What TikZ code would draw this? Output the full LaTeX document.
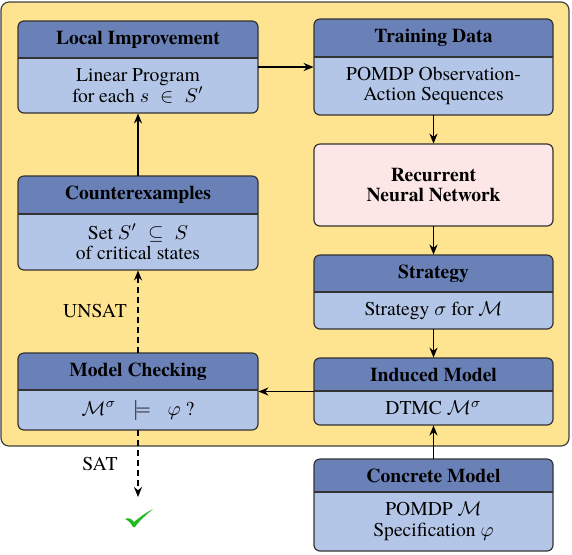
\documentclass[tikz,border=0pt]{standalone}
\usepackage{fontspec}
\setmainfont{TeX Gyre Termes}
\usepackage{amssymb}
\usetikzlibrary{arrows.meta,fit}
\definecolor{bgyellow}{HTML}{FEE390}
\definecolor{hdblue}{HTML}{6A81B8}
\definecolor{bdblue}{HTML}{B4C6E7}
\definecolor{rnnpink}{HTML}{FDE6E6}
\definecolor{chkgreen}{HTML}{22B822}
\tikzset{
  boxline/.style={draw=black!80, line width=0.6pt, rounded corners=3pt},
  flow/.style={-{Stealth[length=5pt,width=4pt]}, line width=0.9pt},
  dflow/.style={flow, dashed, dash pattern=on 3pt off 2pt},
  lbl/.style={font=\fontsize{9.8}{10.4}\selectfont, inner sep=0pt},
  ttl/.style={font=\fontsize{9.8}{10.4}\selectfont\bfseries, inner sep=0pt, align=center},
  bdy/.style={font=\fontsize{9.8}{10.4}\selectfont, inner sep=0pt, align=center},
}
% name, x1, y1, x2, y2, ysplit, title, body
\newcommand{\mybox}[8]{%
  \fill[bdblue, rounded corners=3pt] (#2,#3) rectangle (#4,#5);
  \fill[hdblue] (#2,#6) {[rounded corners=3pt] -- (#2,#3) -- (#4,#3)} -- (#4,#6) -- cycle;
  \draw[black!80, line width=0.6pt] (#2,#6) -- (#4,#6);
  \draw[boxline] (#2,#3) rectangle (#4,#5);
  \node[fit={(#2,#3) (#4,#5)}, inner sep=0pt] (#1) {};
  \node[ttl] (#1-t) at ({(#2+#4)/2},{(#3+#6)/2}) {#7};
  \node[bdy] (#1-b) at ({(#2+#4)/2},{(#6+#5)/2}) {#8};
}
\begin{document}
\begin{tikzpicture}[x=0.5pt,y=-0.5pt]
\useasboundingbox (0,0) rectangle (572,554);
\draw[fill=bgyellow, draw=black!75, line width=0.6pt, rounded corners=4pt] (1,2) rectangle (569,446);

\mybox{li}{18}{21}{258}{113}{58}{Local Improvement}{Linear Program\\for each $s\;\in\;S'$}
\mybox{td}{314}{19}{553}{115}{57}{Training Data}{POMDP Observation-\\Action Sequences}
\fill[rnnpink, rounded corners=3pt] (314,144) rectangle (553,226);
\draw[boxline] (314,144) rectangle (553,226);
\node[fit={(314,144) (553,226)}, inner sep=0pt] (rnn) {};
\node[ttl] at (rnn.center) {Recurrent\\Neural Network};
\mybox{ce}{18}{176}{258}{270}{214}{Counterexamples}{Set $S'\;\subseteq\;S$\\of critical states}
\mybox{st}{314}{255}{553}{329}{292}{Strategy}{Strategy $\sigma$ for $\mathcal{M}$}
\mybox{im}{314}{358}{553}{425}{391}{Induced Model}{DTMC $\mathcal{M}^\sigma$}
\mybox{mc}{18}{353}{258}{430}{390}{Model Checking}{$\mathcal{M}^\sigma\;\;\models\;\;\varphi$ ?}
\mybox{cm}{314}{459}{553}{551}{492}{Concrete Model}{POMDP $\mathcal{M}$\\Specification $\varphi$}

\coordinate (sat) at (138,497);
\draw[flow] (li.east) -- (td.west);
\draw[flow] (td.south) -- (rnn.north);
\draw[flow] (rnn.south) -- (st.north);
\draw[flow] (st.south) -- (im.north);
\draw[flow] (cm.north) -- (im.south);
\draw[flow] (im.west) -- (mc.east);
\draw[flow] (ce.north) -- (li.south);
\draw[dflow] (mc.north) -- (ce.south);
\draw[dflow] (mc.south) -- (sat);
\node[lbl] (unsat) at (95,311) {UNSAT};
\node[lbl] (satl) at (100,464) {SAT};

\fill[chkgreen] (125,519) .. controls (129,517) and (132,519) .. (134,522)
  .. controls (141,516) and (147,512) .. (153,509)
  .. controls (146,515) and (139,521) .. (135,527)
  -- (133,527) .. controls (131,523) and (128,520) .. cycle;
\end{tikzpicture}
\end{document}
